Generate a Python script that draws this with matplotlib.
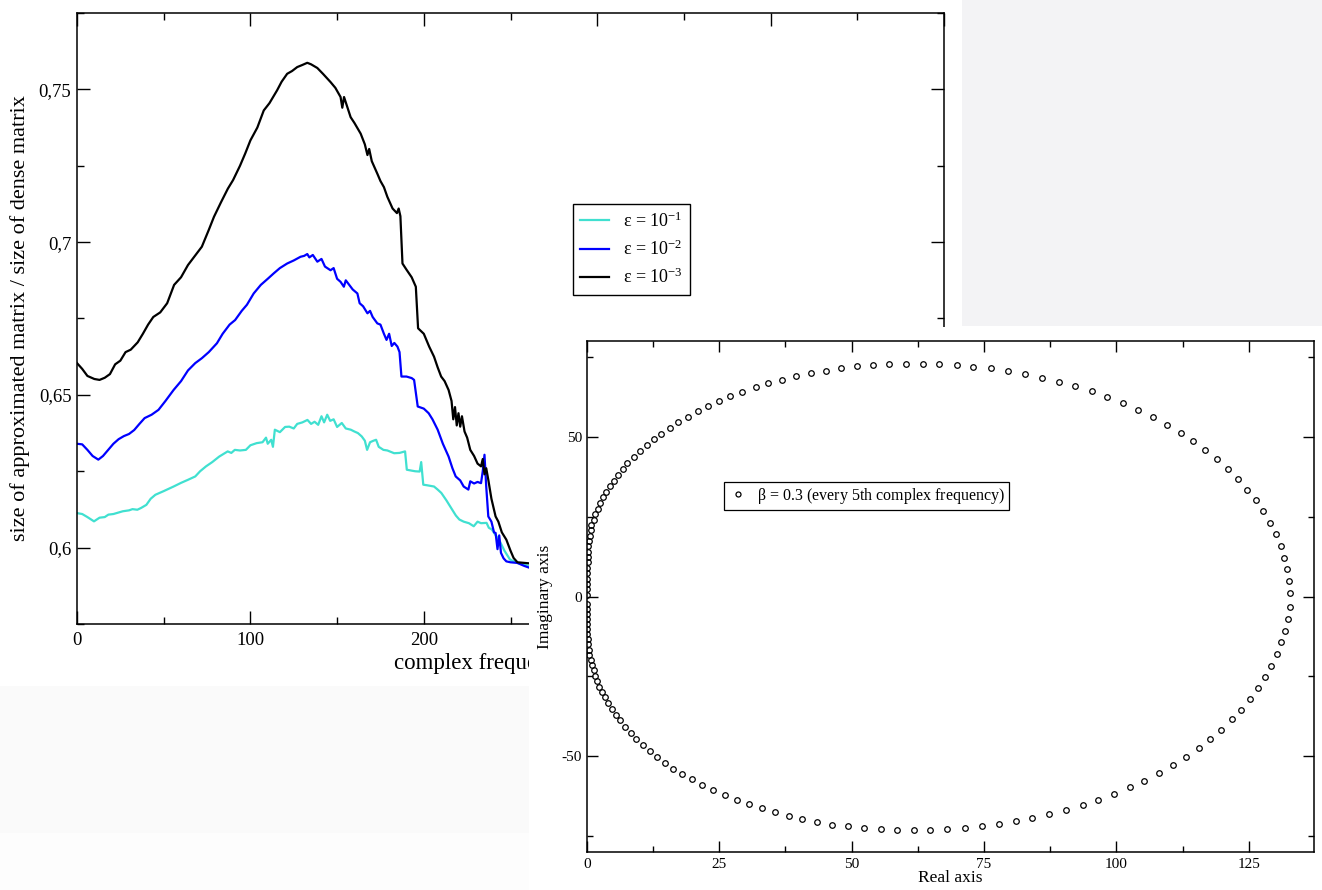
import matplotlib
matplotlib.use('Agg')
import matplotlib.pyplot as plt
from matplotlib.patches import Rectangle
from matplotlib.ticker import MultipleLocator, FuncFormatter

plt.rcParams['font.family'] = ['Liberation Serif', 'DejaVu Serif']
plt.rcParams['mathtext.fontset'] = 'custom'
plt.rcParams['mathtext.rm'] = 'Liberation Serif'
plt.rcParams['mathtext.default'] = 'regular'

# ---- main chart data: compression ratio vs complex frequency index ----
eps3_x = [0, 3, 6, 10, 13, 16, 19, 22, 25, 28, 31, 35, 38, 41, 44, 48, 52, 56, 60, 64,
          68, 72, 76, 79, 83, 87, 90, 94, 97, 100, 104, 107.7, 111, 115.4, 118, 121.2, 124, 127, 130, 132.8,
          135, 138.6, 142, 146.2, 149, 152, 153, 154, 157.8, 160, 163.6, 166, 167.5, 168.5, 170, 173.2,
          175, 177, 179, 182, 184.5, 185.5, 186.5, 187.7, 190, 193, 195.4, 196.7, 200, 203.1, 205.9,
          208, 210, 212, 214.3, 216, 217, 218, 219, 220, 221, 222, 223.5, 225, 226.8, 229, 231, 233,
          234, 235, 236, 237.2, 239, 241.4, 243, 245, 247.6, 250, 251.8, 254, 258, 262]
eps3_y = [0.6604, 0.6585, 0.6562, 0.6552, 0.6549, 0.6556, 0.6568, 0.6600, 0.6612, 0.6640, 0.6648,
          0.6672, 0.6700, 0.6730, 0.6755, 0.6770, 0.6800, 0.6860, 0.6885, 0.6925, 0.6955, 0.6985,
          0.7040, 0.7083, 0.7130, 0.7175, 0.7203, 0.7250, 0.7290, 0.7333, 0.7375, 0.7431, 0.7455,
          0.7497, 0.7525, 0.7551, 0.7560, 0.7573, 0.7580, 0.7587, 0.7582, 0.7570, 0.7550, 0.7524,
          0.7505, 0.7475, 0.7440, 0.7475, 0.7409, 0.7390, 0.7355, 0.7320, 0.7285, 0.7305, 0.7265,
          0.7224, 0.7200, 0.7180, 0.7148, 0.7110, 0.7095, 0.7110, 0.7085, 0.6930, 0.6910, 0.6885,
          0.6854, 0.6718, 0.6700, 0.6658, 0.6625, 0.6590, 0.6560, 0.6545, 0.6516, 0.6480, 0.6420,
          0.6460, 0.6400, 0.6440, 0.6396, 0.6430, 0.6380, 0.6360, 0.6320, 0.6300, 0.6275, 0.6266,
          0.6290, 0.6240, 0.6260, 0.6222, 0.6160, 0.6102, 0.6085, 0.6050, 0.6026, 0.5990, 0.5966,
          0.5952, 0.5950, 0.5948]

eps2_x = [0, 3, 6, 9, 12.3, 15, 18, 21, 24, 27, 30, 33, 36, 39, 43, 47, 51, 55.7, 60, 64, 68.2,
          72, 76, 80.7, 84, 88, 91.2, 95, 98, 101.9, 106, 110, 113.5, 117, 121.2, 125, 128.9, 131,
          132.8, 134, 136, 138.6, 141, 143, 146.2, 148, 150, 152, 153.9, 155, 157, 159, 161.7, 163,
          165, 167.5, 169, 170.5, 173.2, 175, 177, 178.5, 180, 181.5, 183, 184.8, 186, 187.1, 190,
          193, 194.4, 196.5, 200, 202.8, 205, 208, 211, 214.3, 216.5, 218.4, 221, 223, 225.7, 226.8,
          229, 231, 233, 234, 235, 236, 237.2, 239, 240.5, 241.4, 242.5, 243.5, 244.5, 246, 247.6,
          250, 253.9, 258, 262]
eps2_y = [0.6340, 0.6338, 0.6320, 0.6300, 0.6288, 0.6300, 0.6320, 0.6340, 0.6355, 0.6365, 0.6372,
          0.6385, 0.6405, 0.6424, 0.6435, 0.6451, 0.6480, 0.6516, 0.6545, 0.6580, 0.6604, 0.6620,
          0.6640, 0.6669, 0.6700, 0.6730, 0.6745, 0.6775, 0.6795, 0.6832, 0.6860, 0.6880, 0.6898,
          0.6915, 0.6930, 0.6940, 0.6952, 0.6955, 0.6961, 0.6950, 0.6958, 0.6936, 0.6945, 0.6920,
          0.6908, 0.6915, 0.6880, 0.6870, 0.6854, 0.6875, 0.6860, 0.6845, 0.6832, 0.6800, 0.6790,
          0.6767, 0.6775, 0.6755, 0.6734, 0.6730, 0.6700, 0.6680, 0.6700, 0.6660, 0.6670, 0.6658,
          0.6640, 0.6560, 0.6560, 0.6555, 0.6549, 0.6462, 0.6455, 0.6440, 0.6420, 0.6386, 0.6340,
          0.6298, 0.6260, 0.6233, 0.6220, 0.6200, 0.6190, 0.6217, 0.6210, 0.6215, 0.6211, 0.6250,
          0.6304, 0.6200, 0.6102, 0.6085, 0.6050, 0.6048, 0.5995, 0.6040, 0.5983, 0.5965, 0.5955,
          0.5952, 0.5950, 0.5940, 0.5932]

eps1_x = [0, 3, 6, 9.8, 13, 16, 18.1, 21, 24, 26.4, 30, 32, 34.8, 37, 40, 42.5, 45.2, 50, 55.7,
          60, 64, 68.2, 71, 74.4, 78, 82, 86.9, 89, 91, 94, 97.4, 100, 103.6, 107, 109, 110, 112,
          113, 114.1, 117, 120, 122.4, 125, 127, 130, 132.9, 135, 137, 139.1, 141, 142.5, 144.3,
          146, 148, 150, 152.7, 155, 157.9, 160, 162, 164.2, 166, 167.3, 169, 171, 172.5, 174,
          176.7, 179, 182.9, 186, 189.2, 190.2, 193, 195, 197.6, 198.5, 199.7, 202, 205.9, 208,
          210.1, 213, 216.4, 218.5, 220.5, 223, 226, 228.8, 231, 233, 236.2, 237.5, 239.3, 241.5,
          243.4, 246.5, 249.7, 253, 257, 262]
eps1_y = [0.6113, 0.6110, 0.6100, 0.6086, 0.6098, 0.6100, 0.6108, 0.6110, 0.6115, 0.6119, 0.6122,
          0.6126, 0.6124, 0.6130, 0.6140, 0.6160, 0.6173, 0.6185, 0.6200, 0.6212, 0.6222, 0.6233,
          0.6250, 0.6266, 0.6280, 0.6298, 0.6315, 0.6310, 0.6320, 0.6318, 0.6320, 0.6335, 0.6342,
          0.6345, 0.6360, 0.6340, 0.6353, 0.6330, 0.6386, 0.6378, 0.6395, 0.6396, 0.6390, 0.6405,
          0.6410, 0.6418, 0.6405, 0.6412, 0.6402, 0.6430, 0.6410, 0.6435, 0.6415, 0.6420, 0.6395,
          0.6408, 0.6390, 0.6386, 0.6380, 0.6375, 0.6364, 0.6350, 0.6320, 0.6345, 0.6350, 0.6353,
          0.6330, 0.6320, 0.6318, 0.6309, 0.6310, 0.6315, 0.6255, 0.6252, 0.6250, 0.6249, 0.6280,
          0.6206, 0.6204, 0.6200, 0.6190, 0.6179, 0.6155, 0.6124, 0.6105, 0.6092, 0.6085, 0.6080,
          0.6070, 0.6085, 0.6080, 0.6081, 0.6065, 0.6059, 0.6040, 0.6026, 0.5990, 0.5961, 0.5952,
          0.5945, 0.5939]

# ---- inset data: complex frequencies on the contour (every 5th) ----
re_pts = [0, 0, 0, 0, 0.1, 0.1, 0.2, 0.2, 0.3, 0.3, 0.4, 0.6, 0.8, 0.9, 1.3, 1.6, 2.1, 2.6, 3.1, 3.7,
          4.4, 5.1, 5.9, 6.8, 7.7, 8.9, 10.0, 11.3, 12.7, 14.1, 15.7, 17.3, 19.1, 21.0, 22.9, 25.0,
          27.1, 29.4, 31.9, 34.3, 36.9, 39.5, 42.3, 45.1, 48.0, 51.0, 54.0, 57.1, 60.3,
          63.4, 66.6, 69.9, 73.0, 76.3, 79.5, 82.7, 86.0, 89.2, 92.2, 95.3, 98.3, 101.3, 104.1,
          106.9, 109.5, 112.1, 114.5, 116.8, 119.0, 121.1, 123.0, 124.7, 126.3, 127.7, 129.0,
          130.1, 131.0, 131.7, 132.2, 132.5, 132.7,
          132.7, 132.4, 131.9, 131.1, 130.3, 129.2, 128.1, 126.8, 125.3, 123.6, 121.9, 119.8,
          117.7, 115.5, 113.1, 110.7, 108.1, 105.3, 102.5, 99.6, 96.6, 93.6, 90.5, 87.3, 84.1,
          81.0, 77.8, 74.6, 71.4, 68.1, 64.9, 61.8,
          58.6, 55.5, 52.4, 49.3, 46.4, 43.5, 40.7, 38.1, 35.5, 33.0, 30.6, 28.3, 26.1, 23.8,
          21.8, 19.9, 18.0, 16.3, 14.8, 13.2, 11.9, 10.6, 9.4, 8.3, 7.2, 6.3, 5.5, 4.7, 4.1, 3.4,
          2.9, 2.3, 1.9, 1.5, 1.3, 1.0, 0.8, 0.5, 0.4, 0.3, 0.2, 0.1, 0.1, 0, 0, 0, 0, 0]
im_pts = [0.6, 2.3, 4.0, 5.6, 7.3, 9.0, 10.7, 12.3, 14.0, 15.7, 17.4, 19.0, 20.7, 22.4, 24.1, 25.7,
          27.4, 29.2, 31.0, 32.6, 34.5, 36.2, 38.0, 39.9, 41.7, 43.6, 45.5, 47.3, 49.2, 50.9, 52.8,
          54.6, 56.3, 58.1, 59.6, 61.2, 62.7, 64.1, 65.5, 66.8, 67.9, 69.0, 69.9, 70.7, 71.5, 72.1,
          72.6, 72.8, 72.9,
          72.9, 72.8, 72.5, 72.0, 71.4, 70.6, 69.7, 68.5, 67.2, 65.8, 64.2, 62.5, 60.6, 58.4,
          56.2, 53.8, 51.3, 48.6, 45.8, 42.9, 39.9, 36.7, 33.5, 30.1, 26.7, 23.1, 19.6, 15.9,
          12.2, 8.6, 4.9, 1.2,
          -3.2, -6.9, -10.7, -14.4, -18.1, -21.8, -25.2, -28.7, -32.0, -35.4, -38.5, -41.7,
          -44.6, -47.5, -50.2, -52.8, -55.3, -57.7, -59.8, -61.7, -63.6, -65.3, -66.9, -68.2,
          -69.4, -70.4, -71.2, -72.0, -72.5, -72.9, -73.1, -73.2,
          -73.1, -72.9, -72.6, -72.0, -71.4, -70.6, -69.6, -68.7, -67.6, -66.3, -65.0, -63.6,
          -62.1, -60.6, -59.0, -57.2, -55.6, -53.9, -52.1, -50.2, -48.4, -46.6, -44.6, -42.7,
          -40.8, -38.8, -37.0, -35.2, -33.3, -31.6, -29.8, -28.2, -26.4, -24.8, -23.0, -21.4,
          -19.8, -18.2, -16.6, -15.0, -13.4, -11.8, -10.3, -8.6, -7.0, -5.4, -3.9, -2.3]

W, H = 1322, 890
fig = plt.figure(figsize=(W / 100, H / 100), dpi=100)
fig.patch.set_facecolor('white')


def fig_rect(x0, y0, x1, y1):
    # pixel box (top-left origin) -> figure fraction [left, bottom, width, height]
    return [x0 / W, 1 - y1 / H, (x1 - x0) / W, (y1 - y0) / H]


# main chart
ax = fig.add_axes(fig_rect(77, 13, 944, 624), zorder=0)
ax.plot(eps1_x, eps1_y, color='#40e0d0', lw=1.6, label=r'$\epsilon$ = 10$^{-1}$')
ax.plot(eps2_x, eps2_y, color='#0000ff', lw=1.6, label=r'$\epsilon$ = 10$^{-2}$')
ax.plot(eps3_x, eps3_y, color='black', lw=1.6, label=r'$\epsilon$ = 10$^{-3}$')
ax.set_xlim(0, 500)
ax.set_ylim(0.575, 0.775)
ax.xaxis.set_major_locator(MultipleLocator(100))
ax.xaxis.set_minor_locator(MultipleLocator(50))
ax.yaxis.set_major_locator(MultipleLocator(0.05))
ax.yaxis.set_minor_locator(MultipleLocator(0.025))
ax.yaxis.set_major_formatter(FuncFormatter(lambda v, p: f'{v:g}'.replace('.', ',')))
ax.tick_params(which='both', direction='in', top=True, right=True, width=1, labelsize=13.5)
ax.tick_params(which='major', length=9.5)
ax.tick_params(which='minor', length=5)
ax.tick_params(axis='x', pad=6)
ax.tick_params(axis='y', pad=4)
for s in ax.spines.values():
    s.set_linewidth(1.1)
ax.set_ylabel('size of approximated matrix / size of dense matrix', fontsize=16)
ax.yaxis.set_label_coords(-0.054, 0.5)
ax.set_xlabel('complex frequency index', fontsize=16.5)
ax.xaxis.set_label_coords(0.5, -0.047)
leg = ax.legend(loc='upper left', bbox_to_anchor=(573 / W, 1 - 204 / H),
                bbox_transform=fig.transFigure, borderaxespad=0, fancybox=False,
                framealpha=1, edgecolor='black', fontsize=13, handlelength=1.6,
                handletextpad=0.75, labelspacing=0.5, borderpad=0.4)
leg.get_frame().set_linewidth(1)

# screenshot background patches covering parts of the main chart
fig.add_artist(Rectangle((962 / W, 1 - 326 / H), (W - 962) / W, 326 / H,
                         transform=fig.transFigure, color='#f3f3f5', lw=0, zorder=1))
fig.add_artist(Rectangle((0, 1 - 833 / H), 529 / W, (833 - 686) / H,
                         transform=fig.transFigure, color='#fafafa', lw=0, zorder=1))
fig.add_artist(Rectangle((0, 0), 529 / W, (H - 833) / H,
                         transform=fig.transFigure, color='#fdfdfd', lw=0, zorder=1))
fig.add_artist(Rectangle((529 / W, 0), (W - 529) / W, (H - 327) / H,
                         transform=fig.transFigure, color='white', lw=0, zorder=1.5))

# inset chart
ax2 = fig.add_axes(fig_rect(586.7, 341, 1314, 852), zorder=2)
ax2.plot(re_pts, im_pts, ls='none', marker='o', ms=4, mfc='none', mec='black', mew=0.9,
         label=r'$\beta$ = 0.3 (every 5th complex frequency)')
ax2.set_xlim(0, 137.3)
ax2.set_ylim(-80, 80)
ax2.xaxis.set_major_locator(MultipleLocator(25))
ax2.xaxis.set_minor_locator(MultipleLocator(12.5))
ax2.yaxis.set_major_locator(MultipleLocator(50))
ax2.yaxis.set_minor_locator(MultipleLocator(25))
ax2.xaxis.set_major_formatter(FuncFormatter(lambda v, p: f'{v:g}'))
ax2.yaxis.set_major_formatter(FuncFormatter(lambda v, p: f'{v:g}'.replace('\u2212', '-')))
ax2.tick_params(which='both', direction='in', top=True, right=True, width=1, labelsize=11)
ax2.tick_params(which='major', length=8)
ax2.tick_params(which='minor', length=4.3)
ax2.tick_params(axis='x', pad=4.5)
ax2.tick_params(axis='y', pad=3.5)
for s in ax2.spines.values():
    s.set_linewidth(1.1)
ax2.set_xlabel('Real axis', fontsize=12.5)
ax2.xaxis.set_label_coords(0.5, -0.036)
ax2.set_ylabel('Imaginary axis', fontsize=12.5)
ax2.yaxis.set_label_coords(-0.046, 0.5)
leg2 = ax2.legend(loc='upper left', bbox_to_anchor=(724 / W, 1 - 482 / H),
                  bbox_transform=fig.transFigure, borderaxespad=0, fancybox=False,
                  framealpha=1, edgecolor='black', fontsize=11.5, handlelength=1.2,
                  handletextpad=0.6, borderpad=0.25, markerscale=0.9)
leg2.get_frame().set_linewidth(0.9)

fig.savefig('out.png', dpi=100)
